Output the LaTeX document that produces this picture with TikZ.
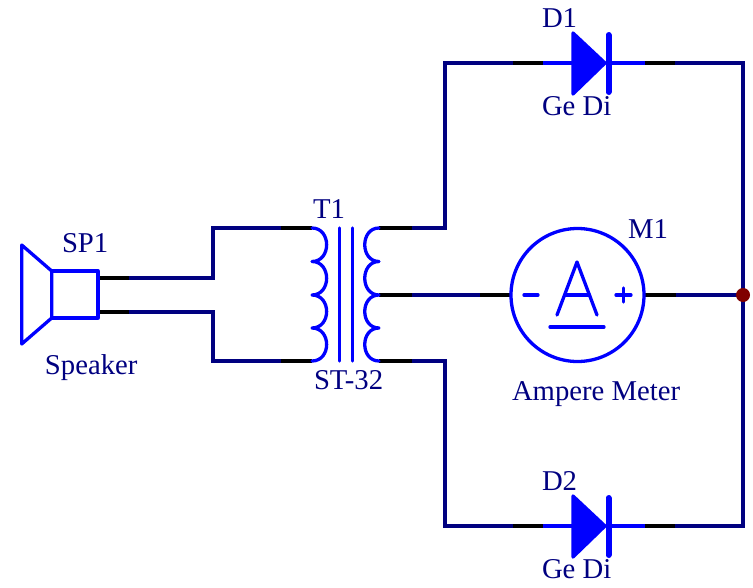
\documentclass[tikz,border=0pt]{standalone}
\usepackage{fontspec}
\setmainfont{Liberation Serif}
\definecolor{wirenavy}{RGB}{0,0,128}
\definecolor{symblue}{RGB}{0,0,255}
\definecolor{jdot}{RGB}{128,0,0}
\tikzset{
  wire/.style={draw=wirenavy,line width=3.3pt,line join=miter},
  pin/.style={draw=black,line width=3.3pt},
  sym/.style={draw=symblue,line width=3.3pt,line join=round,line cap=round},
  symflat/.style={draw=symblue,line width=3.3pt},
  lbl/.style={text=wirenavy,anchor=base west,inner sep=0pt,outer sep=0pt,font=\fontsize{28.7}{30}\selectfont},
}
\begin{document}
\begin{tikzpicture}[x=1pt,y=-1pt]
\useasboundingbox (0,0) rectangle (753,587);
% key points
\coordinate (spA) at (98,278);
\coordinate (spAe) at (129,278);
\coordinate (spB) at (98,312);
\coordinate (spBe) at (129,312);
\coordinate (tl1) at (312,228);
\coordinate (tl1b) at (281,228);
\coordinate (tl2) at (312,361);
\coordinate (tl2b) at (281,361);
\coordinate (tr1) at (379,228);
\coordinate (tr1e) at (412,228);
\coordinate (trm) at (379,295);
\coordinate (trme) at (412,295);
\coordinate (tr2) at (379,361);
\coordinate (tr2e) at (412,361);
\coordinate (mL) at (511,295);
\coordinate (mLb) at (480,295);
\coordinate (mR) at (645,295);
\coordinate (mRe) at (676,295);
\coordinate (d1a) at (543,63);
\coordinate (d1ab) at (513,63);
\coordinate (d1k) at (645,63);
\coordinate (d1ke) at (675,63);
\coordinate (d2a) at (543,526);
\coordinate (d2ab) at (513,526);
\coordinate (d2k) at (645,526);
\coordinate (d2ke) at (675,526);
\coordinate (j) at (743,295);
% navy wiring
\draw[wire] (spAe) -- (spA) (spAe) -| (213,228) -- (tl1b);
\draw[wire] (spBe) -- (spB) (spBe) -| (213,361) -- (tl2b);
\draw[wire] (tr1e) -| (445,63) -- (d1ab);
\draw[wire] (tr2e) -| (445,526) -- (d2ab);
\draw[wire] (trme) -- (mLb);
\draw[wire] (mRe) -- (j);
\draw[wire] (d1ke) -| (j);
\draw[wire] (d2ke) -| (j);
% black pins
\draw[pin] (spA) -- (spAe);
\draw[pin] (spB) -- (spBe);
\draw[pin] (tl1b) -- (tl1);
\draw[pin] (tl2b) -- (tl2);
\draw[pin] (tr1) -- (tr1e);
\draw[pin] (trm) -- (trme);
\draw[pin] (tr2) -- (tr2e);
\draw[pin] (mLb) -- (mL);
\draw[pin] (mR) -- (mRe);
\draw[pin] (d1ab) -- (d1a);
\draw[pin] (d1k) -- (d1ke);
\draw[pin] (d2ab) -- (d2a);
\draw[pin] (d2k) -- (d2ke);
% speaker
\draw[sym] (51.7,271) -- (21.7,245) -- (21.7,344) -- (51.7,318) -- cycle;
\draw[sym] (51.7,271) rectangle (98,318);
% transformer
\draw[sym] (tl1)
  .. controls (331.5,228) and (331.5,261.5) .. (312,261.5)
  .. controls (331.5,261.5) and (331.5,295) .. (312,295)
  .. controls (331.5,295) and (331.5,328) .. (312,328)
  .. controls (331.5,328) and (331.5,361) .. (tl2);
\draw[sym] (tr1)
  .. controls (360,228) and (360,261.5) .. (379,261.5)
  .. controls (360,261.5) and (360,295) .. (trm)
  .. controls (360,295) and (360,328) .. (379,328)
  .. controls (360,328) and (360,361) .. (tr2);
\draw[sym] (339.5,228) -- (339.5,361);
\draw[sym] (352.5,228) -- (352.5,361);
% meter
\draw[symflat] (577.5,295) circle (66.5pt);
\draw[sym] (557,315) -- (577,262) -- (597,315);
\draw[sym] (565,295) -- (589.5,295);
\draw[sym] (550,327) -- (604,327);
\draw[sym] (524,295) -- (538,295);
\draw[sym] (616,295) -- (631,295);
\draw[sym] (623.5,288) -- (623.5,302);
% diode 1
\draw[symflat] (d1a) -- (573,63);
\draw[symflat] (608,63) -- (d1k);
\filldraw[sym,fill=symblue] (573,33) -- (605,63) -- (573,94) -- cycle;
\draw[draw=symblue,line width=6pt,line cap=round] (608.5,35) -- (608.5,92);
% diode 2
\draw[symflat] (d2a) -- (573,526);
\draw[symflat] (608,526) -- (d2k);
\filldraw[sym,fill=symblue] (573,496) -- (605,526) -- (573,557) -- cycle;
\draw[draw=symblue,line width=6pt,line cap=round] (608.5,498) -- (608.5,555);
% junction
\fill[jdot] (j) circle (7pt);
% labels
\node[lbl] (lsp) at (62,252) {SP1};
\node[lbl] (lspv) at (45,374) {Speaker};
\node[lbl] (lt) at (313,218) {T1};
\node[lbl] (ltv) at (314,389) {ST-32};
\node[lbl] (lm) at (628,238) {M1};
\node[lbl] (lmv) at (512,400) {Ampere Meter};
\node[lbl] (ld1) at (542,27) {D1};
\node[lbl] (ld1v) at (542,115) {Ge Di};
\node[lbl] (ld2) at (542,490) {D2};
\node[lbl] (ld2v) at (542,578) {Ge Di};
\end{tikzpicture}
\end{document}
